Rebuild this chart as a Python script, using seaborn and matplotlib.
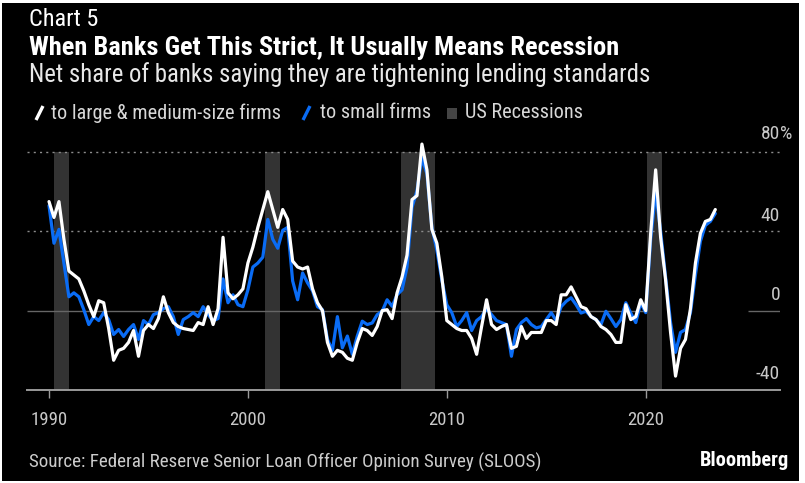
import numpy as np
import pandas as pd
import seaborn as sns
import matplotlib.pyplot as plt
from matplotlib import font_manager as fm
from matplotlib.lines import Line2D
from matplotlib.patches import Rectangle

# Net share of banks tightening C&I lending standards, quarterly from 1990
large = [55, 47, 55, 36, 20, 18, 16, 10, 3, -3, 5, 4, -9, -25, -20, -19, -16, -10, -23, -10,
         -7, -9, -4, 7, -1, -6, -8, -9, -9.5, -10, -6, -7, 2, -7, 1, 37, 9, 6, 8, 11,
         24, 32, 42, 51, 60, 51, 42, 51, 46, 25, 22, 21, 22, 11, 4, 0, -16, -23, -20, -21,
         -24, -25, -16, -9, -10, -12.5, -8, 0, 0.5, -4, 9, 17, 28, 56, 58, 84, 71, 41, 34, 17,
         -5, -7, -9, -10, -10, -14, -22, -8, 5.5, -7, -9.5, -8, -7, -19, -18, -8, -14, -11, -11, -11,
         -5, -5, -7, 8, 8, 12, 7, 2, 1, -3, -4.5, -8, -9.5, -12, -16, -16, 3, -4.5, -3, 5.5,
         0, 39, 71, 37, 15.5, -11, -33, -19, -14.5, 1, 24, 39, 45, 46, 51]
small = [53, 34, 41, 24, 7, 9, 7, 0.5, -7, -3, -5, -1, -4.5, -12, -9.5, -13, -9.5, -7, -14.5, -5,
         -7, -2, -1, 1, 2, -3, -12, -4.5, -3, -1, -3, 2, -2, -5, -4, 16, 4, 8, 3, 2,
         10.5, 22, 24, 27, 46, 36, 31.5, 40.5, 42, 15, 5.5, 19, 14, 10, 2, 0.5, -14.5, -20, -3, -18.7,
         -12.8, -22, -12.8, -5.3, -7, -6.2, -2, -0.3, 5.5, 2.2, 8, 10.5, 22, 52, 60.5, 77, 69, 42, 30.5, 15.5,
         3, -1, -8, -5, -1, -10, -5, -3, 1, -2, -5, -6, -7, -23, -9.5, -6, -4, -7, -8.7, -8,
         -4.5, -1, -5, 2, 4.7, 6.5, 3, -1.2, -0.3, -3, -4.5, -7, -0.3, -4, -8, -4.5, 4, -1.2, -6, 4,
         -1, 36, 60, 40, 17, -6, -21, -11, -9.5, -1, 18, 35, 43, 45, 49]
years = 1990 + 0.25 * np.arange(len(large))

rec_start = [1990.25, 2000.85, 2007.7, 2020.05]
rec_end = [1991.0, 2001.6, 2009.4, 2020.8]

year_ticks = [1990, 2000, 2010, 2020]
value_ticks = [80, 40, 0, -40]

df = pd.DataFrame({'year': years, 'large': large, 'small': small})

W, H = 805, 483
BLUE = '#0a6cf5'

sns.set_style('dark')
available = {f.name for f in fm.fontManager.ttflist}
family = 'DejaVu Sans'
for name in ['Liberation Sans Narrow', 'DejaVu Sans Condensed', 'Roboto Condensed', 'Roboto', 'Noto Sans']:
    if name in available:
        family = name
        break
plt.rcParams['font.family'] = [family, 'DejaVu Sans']


def fx(x):
    return x / W


def fy(y):
    return 1 - y / H


fig = plt.figure(figsize=(W / 100, H / 100), dpi=100, facecolor='white')
fig.patches.append(Rectangle((fx(2), fy(481)), fx(797), 478 / H, transform=fig.transFigure,
                             facecolor='black', edgecolor='none', zorder=-5))

left, right, top, bottom = 26.7, 780, 152, 390
ax = fig.add_axes([fx(left), fy(bottom), fx(right - left), (bottom - top) / H])
ax.patch.set_alpha(0)

px_per_year = 19.89
x_lo = 1990 + (left - 49) / px_per_year
x_hi = 1990 + (right - 49) / px_per_year

for a, b in zip(rec_start, rec_end):
    ax.axvspan(a, b, color='#333333', lw=0, zorder=0.5)

for v in [80, 40]:
    ax.axhline(v, color='#8c8c8c', lw=1, ls=(0, (1.5, 3)), zorder=1)
# zero line stops at the last recession and resumes to the right of the data
ax.hlines(0, x_lo, rec_start[-1], color='#666666', lw=1, zorder=1)
ax.hlines(0, 1990 + (748 - 49) / px_per_year, x_hi, color='#666666', lw=1, zorder=1)

sns.lineplot(data=df, x='year', y='small', color=BLUE, lw=2.3, ax=ax, zorder=3)
sns.lineplot(data=df, x='year', y='large', color='white', lw=2.3, ax=ax, zorder=4)
for ln in ax.lines:
    ln.set_clip_on(False)

ax.set_xlim(x_lo, x_hi)
ax.set_ylim(-40, 80)
ax.set_xlabel('')
ax.set_ylabel('')
ax.grid(False)
for s in ['top', 'right', 'left']:
    ax.spines[s].set_visible(False)
ax.spines['bottom'].set_color('#9a9a9a')
ax.spines['bottom'].set_linewidth(1.4)
ax.set_xticks(year_ticks)
ax.set_xticklabels([str(y) for y in year_ticks])
ax.set_yticks([])
ax.tick_params(axis='x', direction='out', length=6, width=1, color='#9a9a9a',
               labelcolor='#c8c8c8', labelsize=13.5, pad=9, bottom=True)

# right-hand value labels sit above their gridlines, right-aligned at the axis end
label_y = [134, 216, 295, 374]
for v, y in zip(value_ticks, label_y):
    fig.text(fx(right), fy(y), str(v), color='#c8c8c8', fontsize=14, ha='right', va='center')
fig.text(fx(right), fy(label_y[0]), '%', color='#c8c8c8', fontsize=14, ha='left', va='center')

fig.text(fx(29), fy(19), 'Chart 5', color='white', fontsize=17.5, va='center', ha='left')
fig.text(fx(29), fy(48), 'When Banks Get This Strict, It Usually Means Recession', color='white',
         fontsize=19, fontweight='bold', va='center', ha='left')
fig.text(fx(29), fy(75), 'Net share of banks saying they are tightening lending standards',
         color='#e8e8e8', fontsize=17.8, va='center', ha='left')

fig.add_artist(Line2D([fx(36), fx(43)], [fy(120), fy(106)], color='white', lw=2.4,
                      transform=fig.transFigure, solid_capstyle='butt'))
fig.text(fx(51), fy(113), 'to large & medium-size firms', color='#d8d8d8', fontsize=14.6, va='center')
fig.add_artist(Line2D([fx(303), fx(310)], [fy(120), fy(106)], color=BLUE, lw=2.4,
                      transform=fig.transFigure, solid_capstyle='butt'))
fig.text(fx(320), fy(113), 'to small firms', color='#d8d8d8', fontsize=14.6, va='center')
fig.patches.append(Rectangle((fx(447), fy(119)), fx(10), 11 / H, transform=fig.transFigure,
                             facecolor='#444444', edgecolor='none'))
fig.text(fx(465), fy(113), 'US Recessions', color='#d8d8d8', fontsize=14.6, va='center')

fig.text(fx(29), fy(462), 'Source: Federal Reserve Senior Loan Officer Opinion Survey (SLOOS)',
         color='#cccccc', fontsize=13.7, va='center', ha='left')
fig.text(fx(789), fy(460), 'Bloomberg', color='white', fontsize=14.8, fontweight='bold',
         va='center', ha='right')

fig.savefig('out.png', dpi=100, facecolor=fig.get_facecolor())
